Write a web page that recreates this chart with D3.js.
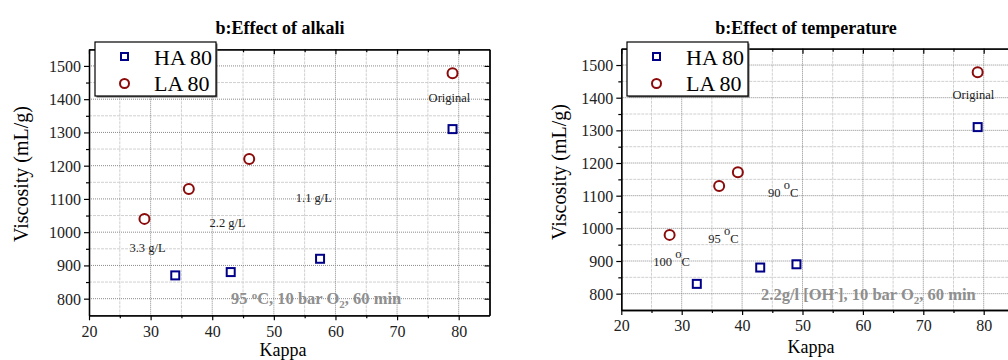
<!DOCTYPE html>
<html><head><meta charset="utf-8">
<script src="https://cdn.jsdelivr.net/npm/d3@7"></script>
<style>
body{margin:0;background:#fff;}
svg{display:block;font-family:"Liberation Serif","Times New Roman",serif;}
</style></head>
<body><svg id="c" width="1008" height="360"></svg>
<script>
// ---- data ----
const xTicks = [20, 30, 40, 50, 60, 70, 80];
const yTicks = [800, 900, 1000, 1100, 1200, 1300, 1400, 1500];
const seriesNames = ["HA 80", "LA 80"];

// panel a: effect of alkali
const alkaliHA_kappa = [34, 43, 57.5, 79];
const alkaliHA_visc  = [870, 880, 920, 1310];
const alkaliLA_kappa = [29, 36.2, 46, 79];
const alkaliLA_visc  = [1040, 1130, 1220, 1478];
const alkaliLabels = ["3.3 g/L", "2.2 g/L", "1.1 g/L", "Original"];
const alkaliLabelX = [29.5, 42.5, 56.5, 78.5];
const alkaliLabelY = [940, 1015, 1090, 1393];

// panel b: effect of temperature
const tempHA_kappa = [32.5, 43, 49, 79];
const tempHA_visc  = [830, 880, 890, 1310];
const tempLA_kappa = [28, 36.2, 39.3, 79];
const tempLA_visc  = [980, 1130, 1172, 1478];
const tempLabels = ["100", "95", "90", "Original"];
const tempLabelX = [25.3, 34.4, 44.3, 78.3];
const tempLabelY = [885, 955, 1095, 1397];

const svg = d3.select("#c");
const SERIF = "Liberation Serif, Times New Roman, serif";

function panel(o) {
  const x = d3.scaleLinear().domain([20, 85]).range([o.left, o.right]);
  const y = d3.scaleLinear().domain([750, 1550]).range([o.bottom, o.top]);
  const g = svg.append("g").attr("font-family", SERIF);

  // minor grid
  const xMinor = d3.range(25, 85, 10);
  const yMinor = d3.range(750, 1551, 100).filter(v => v > 750 && v < 1550);
  g.selectAll(".xmg").data(xMinor).join("line")
    .attr("x1", d => x(d)).attr("x2", d => x(d)).attr("y1", o.top).attr("y2", o.bottom)
    .attr("stroke", "#d0d0d0").attr("stroke-dasharray", "3,1");
  g.selectAll(".ymg").data(yMinor).join("line")
    .attr("y1", d => y(d)).attr("y2", d => y(d)).attr("x1", o.left).attr("x2", o.right)
    .attr("stroke", "#d0d0d0").attr("stroke-dasharray", "3,1");
  // major grid
  g.selectAll(".xg").data(xTicks.filter(v => v > 20)).join("line")
    .attr("x1", d => x(d)).attr("x2", d => x(d)).attr("y1", o.top).attr("y2", o.bottom)
    .attr("stroke", "#8a8a8a").attr("stroke-dasharray", "1,1");
  g.selectAll(".yg").data(yTicks).join("line")
    .attr("y1", d => y(d)).attr("y2", d => y(d)).attr("x1", o.left).attr("x2", o.right)
    .attr("stroke", "#8a8a8a").attr("stroke-dasharray", "1,1");

  // axes
  const fmt = d3.format("d");
  const bx = g.append("g").attr("transform", `translate(0,${o.bottom})`)
    .call(d3.axisBottom(x).tickValues(xTicks).tickFormat(fmt).tickSize(5).tickSizeOuter(0));
  const bxm = g.append("g").attr("transform", `translate(0,${o.bottom})`)
    .call(d3.axisBottom(x).tickValues(xMinor).tickFormat("").tickSize(3).tickSizeOuter(0));
  const tx = g.append("g").attr("transform", `translate(0,${o.top})`)
    .call(d3.axisBottom(x).tickValues(xTicks).tickFormat("").tickSize(5).tickSizeOuter(0));
  const txm = g.append("g").attr("transform", `translate(0,${o.top})`)
    .call(d3.axisBottom(x).tickValues(xMinor).tickFormat("").tickSize(3).tickSizeOuter(0));
  const ly = g.append("g").attr("transform", `translate(${o.left},0)`)
    .call(d3.axisLeft(y).tickValues(yTicks).tickFormat(fmt).tickSize(5).tickSizeOuter(0));
  const lym = g.append("g").attr("transform", `translate(${o.left},0)`)
    .call(d3.axisLeft(y).tickValues(yMinor).tickFormat("").tickSize(3).tickSizeOuter(0));
  const ry = g.append("g").attr("transform", `translate(${o.right},0)`)
    .call(d3.axisLeft(y).tickValues(yTicks).tickFormat("").tickSize(5).tickSizeOuter(0));
  const rym = g.append("g").attr("transform", `translate(${o.right},0)`)
    .call(d3.axisLeft(y).tickValues(yMinor).tickFormat("").tickSize(3).tickSizeOuter(0));
  [bx, bxm, tx, txm, ly, lym, ry, rym].forEach(a => {
    a.attr("font-family", SERIF);
    a.selectAll("path").attr("stroke", "#000").attr("stroke-width", 1.3);
    a.selectAll("line").attr("stroke", "#000").attr("stroke-width", 1.2);
    a.selectAll("text").attr("font-family", SERIF)
      .attr("font-size", 16).attr("fill", "#222");
  });
  bx.selectAll("text").attr("y", 7).attr("dy", "0.9em");
  ly.selectAll("text").attr("x", -8).attr("dy", "0.34em");

  // titles
  g.append("text").attr("x", o.titleX).attr("y", 34).attr("text-anchor", "middle")
    .attr("font-size", 18).attr("font-weight", "bold").text(o.title);
  g.append("text").attr("x", o.kappaX).attr("y", o.kappaY).attr("text-anchor", "middle")
    .attr("font-size", 18).text("Kappa");
  g.append("text").attr("transform", `translate(${o.vX},${o.vY}) rotate(-90)`)
    .attr("text-anchor", "middle").attr("font-size", 20).text("Viscosity (mL/g)");

  // data points
  g.selectAll(".ha").data(o.haK.map((k, i) => [k, o.haV[i]])).join("rect")
    .attr("x", d => x(d[0]) - 4).attr("y", d => y(d[1]) - 4)
    .attr("width", 8).attr("height", 8)
    .attr("fill", "none").attr("stroke", "#000088").attr("stroke-width", 2);
  g.selectAll(".la").data(o.laK.map((k, i) => [k, o.laV[i]])).join("circle")
    .attr("cx", d => x(d[0])).attr("cy", d => y(d[1])).attr("r", 5)
    .attr("fill", "none").attr("stroke", "#8b0a0a").attr("stroke-width", 2);

  // annotations
  o.annot(g, x, y);

  // condition text
  const ct = g.append("text").attr("x", o.condX).attr("y", o.condY)
    .attr("font-size", 16.5).attr("font-weight", "bold").attr("fill", "#8f8f8f");
  o.cond(ct);

  // legend
  const lg = g.append("g").attr("transform", `translate(${o.legX},42)`);
  lg.append("rect").attr("x", 1.5).attr("y", 1.5).attr("width", 121).attr("height", 54).attr("fill", "#666");
  lg.append("rect").attr("width", 121).attr("height", 54).attr("fill", "#fff").attr("stroke", "#000").attr("stroke-width", 1.2);
  lg.append("rect").attr("x", 26).attr("y", 11).attr("width", 7).attr("height", 7)
    .attr("fill", "none").attr("stroke", "#000088").attr("stroke-width", 2);
  lg.append("circle").attr("cx", 29.5).attr("cy", 41.5).attr("r", 4.5)
    .attr("fill", "none").attr("stroke", "#8b0a0a").attr("stroke-width", 2);
  lg.selectAll(".lt").data(seriesNames).join("text")
    .attr("x", 59).attr("y", (d, i) => 23 + i * 26).attr("font-size", 22).text(d => d);
}

panel({
  left: 89, right: 489.5, top: 49.3, bottom: 315.3,
  title: "b:Effect of alkali", titleX: 280, kappaX: 283, kappaY: 356, vX: 28, vY: 174, legX: 95,
  haK: alkaliHA_kappa, haV: alkaliHA_visc, laK: alkaliLA_kappa, laV: alkaliLA_visc,
  condX: 231, condY: 304,
  annot: (g, x, y) => {
    g.selectAll(".an").data(alkaliLabels).join("text")
      .attr("x", (d, i) => x(alkaliLabelX[i])).attr("y", (d, i) => y(alkaliLabelY[i]))
      .attr("text-anchor", "middle").attr("font-size", 12.5).attr("fill", "#222").text(d => d);
  },
  cond: t => {
    t.append("tspan").text("95 ");
    t.append("tspan").attr("font-size", 11).attr("dy", -5).text("o");
    t.append("tspan").attr("dy", 5).text("C, 10 bar O");
    t.append("tspan").attr("font-size", 11).attr("dy", 4).text("2");
    t.append("tspan").attr("dy", -4).text(", 60 min");
  }
});

panel({
  left: 621.3, right: 1013.9, top: 48.7, bottom: 310,
  title: "b:Effect of temperature", titleX: 806, kappaX: 811, kappaY: 353, vX: 566, vY: 172, legX: 627,
  haK: tempHA_kappa, haV: tempHA_visc, laK: tempLA_kappa, laV: tempLA_visc,
  condX: 761, condY: 300,
  annot: (g, x, y) => {
    g.selectAll(".an").data(tempLabels).join("text")
      .attr("x", (d, i) => x(tempLabelX[i])).attr("y", (d, i) => y(tempLabelY[i]))
      .attr("text-anchor", (d, i) => i === 3 ? "middle" : "start")
      .attr("font-size", 12.5).attr("fill", "#222")
      .each(function(d, i) {
        const t = d3.select(this);
        if (i === 3) { t.text(d); return; }
        t.append("tspan").text(d + " ");
        t.append("tspan").attr("font-size", 12.5).attr("dy", -8).text("o");
        t.append("tspan").attr("dy", 8).text("C");
      });
  },
  cond: t => {
    t.append("tspan").text("2.2g/l [OH");
    t.append("tspan").attr("font-size", 11).attr("dy", -5).text("-");
    t.append("tspan").attr("dy", 5).text("], 10 bar O");
    t.append("tspan").attr("font-size", 11).attr("dy", 4).text("2");
    t.append("tspan").attr("dy", -4).text(", 60 min");
  }
});
</script></body></html>
